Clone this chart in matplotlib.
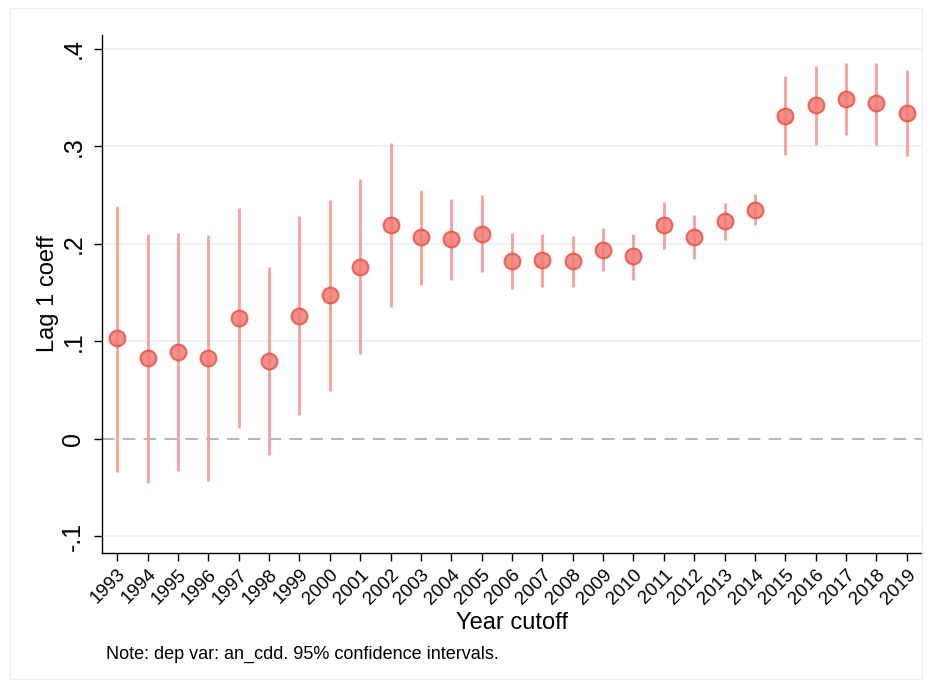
import matplotlib
matplotlib.use("Agg")
import matplotlib.pyplot as plt
import numpy as np

plt.rcParams['font.family'] = ['Liberation Sans', 'DejaVu Sans']

# data
years = list(range(1993, 2020))
coef = [0.103, 0.083, 0.089, 0.083, 0.124, 0.080, 0.126, 0.147, 0.176, 0.219,
        0.207, 0.205, 0.210, 0.182, 0.183, 0.182, 0.194, 0.187, 0.219, 0.207,
        0.223, 0.235, 0.331, 0.342, 0.348, 0.344, 0.334]
ci_hi = [0.239, 0.210, 0.211, 0.209, 0.237, 0.176, 0.228, 0.245, 0.266, 0.303,
         0.255, 0.246, 0.250, 0.211, 0.210, 0.208, 0.216, 0.210, 0.243, 0.230,
         0.242, 0.251, 0.372, 0.382, 0.385, 0.385, 0.378]
ci_lo = [-0.034, -0.045, -0.033, -0.043, 0.011, -0.016, 0.024, 0.049, 0.087, 0.135,
         0.158, 0.163, 0.171, 0.154, 0.156, 0.156, 0.172, 0.163, 0.195, 0.184,
         0.204, 0.219, 0.291, 0.301, 0.311, 0.301, 0.290]
yticks = [-0.1, 0, 0.1, 0.2, 0.3, 0.4]
ytick_labels = ['-.1', '0', '.1', '.2', '.3', '.4']

fig = plt.figure(figsize=(9.32, 6.83), dpi=100)
# faint outer frame
fig.patches.append(plt.Rectangle((0.011, 0.006), 0.978, 0.982, transform=fig.transFigure,
                                 fill=False, edgecolor='#eeeeee', linewidth=1))
ax = fig.add_axes([0.1094, 0.1908, 0.8799, 0.758])

for y in yticks:
    if y != 0:
        ax.axhline(y, color='#eaf1f3', linewidth=1.3, zorder=0)
ax.axhline(0, color='#b8b8b8', linewidth=1.5, linestyle=(0, (6, 4)), zorder=1)

ax.vlines(years, ci_lo, ci_hi, color='#f5a099', linewidth=2, zorder=2)
ax.scatter(years, coef, s=130, facecolor='#f27c72', edgecolor='#e8524a',
           linewidth=1.5, alpha=0.85, zorder=3)

ax.set_xlim(1992.5, 2019.5)
ax.set_ylim(-0.1166, 0.414)
ax.set_xticks(years)
ax.set_xticklabels([str(y) for y in years], rotation=45, ha='right',
                   rotation_mode='anchor', fontsize=13.5)
ax.set_yticks(yticks)
ax.set_yticklabels(ytick_labels, rotation=90, va='center', fontsize=18)
ax.tick_params(axis='both', direction='out', length=6, width=1, color='black')
ax.tick_params(axis='y', pad=6)

for s in ['top', 'right']:
    ax.spines[s].set_visible(False)
ax.spines['left'].set_linewidth(1)
ax.spines['bottom'].set_linewidth(1)

ax.set_ylabel('Lag 1 coeff', fontsize=17, labelpad=2)
ax.set_xlabel('Year cutoff', fontsize=17, labelpad=3)

fig.text(0.114, 0.036, 'Note: dep var: an_cdd. 95% confidence intervals.', fontsize=13)

fig.savefig('out.png', dpi=100)
